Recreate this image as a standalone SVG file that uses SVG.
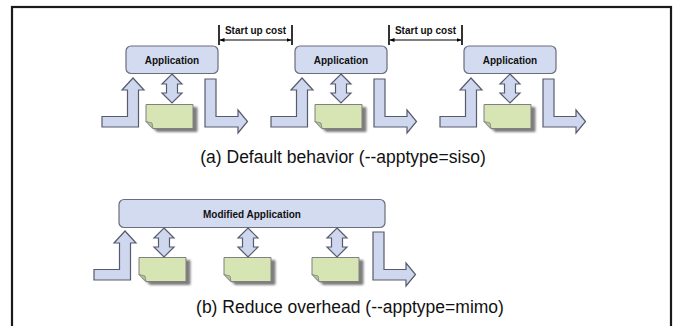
<svg xmlns="http://www.w3.org/2000/svg" xmlns:xlink="http://www.w3.org/1999/xlink" width="674" height="326" viewBox="0 0 674 326">
  <style>
    .frame { fill: #ffffff; stroke: #1a1a1a; stroke-width: 2.2; }
    .app { fill: #d3dbf0; stroke: #6a6d7c; stroke-width: 1.2; }
    .arr { fill: #cfd7ee; stroke: #565b6e; stroke-width: 1.2; stroke-linejoin: miter; }
    .doc { fill: #d7e4b4; stroke: #808080; stroke-width: 1; }
    .fold { fill: #b9c99a; stroke: #808080; stroke-width: 0.8; }
    .lbl { font-family: "Liberation Sans", Arial, sans-serif; font-weight: bold; font-size: 10px; fill: #111; text-anchor: middle; }
    .cap { font-family: "Liberation Sans", Arial, sans-serif; font-size: 17.5px; fill: #111; text-anchor: middle; }
    .br { stroke: #000; stroke-width: 1.6; fill: none; }
    .brh { stroke: #000; stroke-width: 1.1; fill: none; }
  </style>
  <defs>
    <filter id="sh" x="-20%" y="-20%" width="150%" height="160%">
      <feDropShadow dx="4" dy="3" stdDeviation="1.2" flood-color="#666" flood-opacity="0.85"/>
    </filter>
    <marker id="ah" viewBox="0 0 10 10" refX="9" refY="5" markerWidth="5" markerHeight="5" orient="auto-start-reverse" markerUnits="userSpaceOnUse">
      <path d="M0,1 L10,5 L0,9 Z" fill="#000"/>
    </marker>
    <polygon id="upArrow" class="arr" points="102,116.5 127.5,116.5 127.5,90 122,90 133,78 144,90 138.5,90 138.5,127 102,127"/>
    <polygon id="outArrow" class="arr" points="205,79 216,79 216,116.5 238,116.5 238,110 247.5,121.5 238,133 238,127 205,127"/>
    <polygon id="dblArrow" class="arr" points="172,74 182,84 177.5,84 177.5,93 182,93 172,103 162,93 166.5,93 166.5,84 162,84"/>
    <g id="docShape">
      <path class="doc" filter="url(#sh)" d="M146,104.5 H193 V128.5 H153 L146,121.5 Z"/>
      <path class="fold" d="M146,121.5 L152,123 L153,128.5 Z"/>
    </g>
  </defs>

  <rect class="frame" x="12" y="7" width="659" height="335"/>

  <!-- (a) Default behavior -->
  <g id="a-app1">
    <rect class="app" x="126" y="46" width="92" height="27.5" rx="5"/>
    <text class="lbl" x="172" y="63.5">Application</text>
  </g>
  <g id="a-app2" transform="translate(169,0)">
    <rect class="app" x="126" y="46" width="92" height="27.5" rx="5"/>
    <text class="lbl" x="172" y="63.5">Application</text>
  </g>
  <g id="a-app3" transform="translate(338,0)">
    <rect class="app" x="126" y="46" width="92" height="27.5" rx="5"/>
    <text class="lbl" x="172" y="63.5">Application</text>
  </g>
  <g id="a-doc1"><use href="#docShape"/></g>
  <g id="a-doc2" transform="translate(169,0)"><use href="#docShape"/></g>
  <g id="a-doc3" transform="translate(338,0)"><use href="#docShape"/></g>

  <g id="a-startup1">
    <line class="br" x1="219" y1="25" x2="219" y2="45"/>
    <line class="br" x1="292" y1="25" x2="292" y2="45"/>
    <line class="brh" x1="220" y1="40" x2="291" y2="40" marker-start="url(#ah)" marker-end="url(#ah)"/>
    <text class="lbl" x="255.5" y="34">Start up cost</text>
  </g>
  <g id="a-startup2" transform="translate(170,0)">
    <line class="br" x1="219" y1="25" x2="219" y2="45"/>
    <line class="br" x1="292" y1="25" x2="292" y2="45"/>
    <line class="brh" x1="220" y1="40" x2="291" y2="40" marker-start="url(#ah)" marker-end="url(#ah)"/>
    <text class="lbl" x="255.5" y="34">Start up cost</text>
  </g>

  <!-- (b) Reduce overhead -->
  <g id="b-app">
    <rect class="app" x="119" y="199.5" width="266" height="28" rx="5"/>
    <text class="lbl" x="252" y="217.5">Modified Application</text>
  </g>
  <g id="b-doc1" transform="translate(-7,153)"><use href="#docShape"/></g>
  <g id="b-doc2" transform="translate(78,153)"><use href="#docShape"/></g>
  <g id="b-doc3" transform="translate(166,153)"><use href="#docShape"/></g>

  <g id="connectors">
    <use href="#upArrow"/>
    <use href="#dblArrow"/>
    <use href="#outArrow"/>
    <use href="#upArrow" transform="translate(169,0)"/>
    <use href="#dblArrow" transform="translate(169,0)"/>
    <use href="#outArrow" transform="translate(169,0)"/>
    <use href="#upArrow" transform="translate(338,0)"/>
    <use href="#dblArrow" transform="translate(338,0)"/>
    <use href="#outArrow" transform="translate(338,0)"/>

    <use href="#upArrow" transform="translate(-8,153)"/>
    <use href="#dblArrow" transform="translate(-8,154)"/>
    <use href="#dblArrow" transform="translate(76,154)"/>
    <use href="#dblArrow" transform="translate(165,154)"/>
    <use href="#outArrow" transform="translate(168,153)"/>
  </g>

  <text class="cap" x="343" y="163">(a) Default behavior (--apptype=siso)</text>
  <text class="cap" x="350" y="313">(b) Reduce overhead (--apptype=mimo)</text>
</svg>
